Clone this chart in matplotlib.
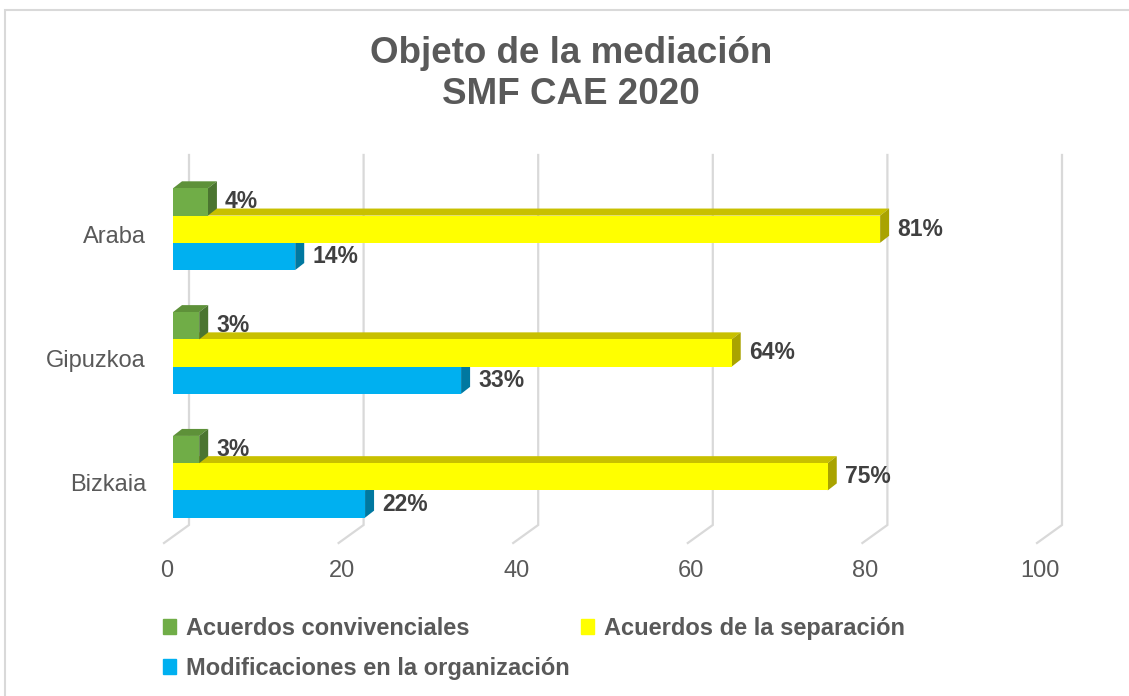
import numpy as np
import matplotlib.pyplot as plt
from matplotlib.patches import Polygon, Rectangle, Patch

plt.rcParams['font.family'] = ['Liberation Sans', 'DejaVu Sans']

# data
regions = ['Bizkaia', 'Gipuzkoa', 'Araba']
series = ['Acuerdos convivenciales', 'Acuerdos de la separación',
          'Modificaciones en la organización']
convivenciales = [3, 3, 4]
separacion = [75, 64, 81]
modificaciones = [22, 33, 14]
x_ticks = [0, 20, 40, 60, 80, 100]

front = ['#70AD47', '#FFFF00', '#00B0F0']
top = ['#5E9139', '#C8C000', '#0094CB']
side = ['#4B7530', '#A9A300', '#0078A0']
grey = '#595959'
grid = '#D9D9D9'

W, H = 1129, 696
fig = plt.figure(figsize=(W / 100, H / 100), dpi=100)
ax = fig.add_axes([173 / W, 1 - 520 / H, 873 / W, 365 / H])
ax.set_xlim(0, 100)
ax.set_ylim(-0.349, 2.599)
ax.axis('off')

# pixel <-> data helpers for the fake 3d look
PX = 873 / 100
PY = 123.8
def dx(p):
    return p / PX
def dy(p):
    return p / PY
def ypix(p):
    return 2 + (229.2 - p) / PY

# back wall grid + floor
for v in x_ticks:
    yb = ypix(525)
    ax.plot([v + dx(16), v + dx(16), v - dx(9)], [ypix(155), yb, yb - dy(18)],
            color=grid, lw=1.6, zorder=1, clip_on=False, solid_joinstyle='miter')
    ax.text(v - dx(6), ypix(571), str(v), ha='center', va='center',
            fontsize=17, color=grey)

h = 0.22
ypos = np.arange(len(regions))
groups = [(modificaciones, -h, 2), (separacion, 0, 1), (convivenciales, h, 0)]
bx, by = dx(9), dy(7)

for z, (vals, off, ci) in enumerate(groups):
    zz = 3 + z
    for yc0, v in zip(ypos, vals):
        yc = yc0 + off
        t, b = yc + h / 2, yc - h / 2
        ax.barh(yc, v, height=h, color=front[ci], zorder=zz + 0.2)
        ax.add_patch(Polygon([(0, t), (v, t), (v + bx, t + by), (bx, t + by)],
                             closed=True, fc=top[ci], ec='none', zorder=zz))
        ax.add_patch(Polygon([(v, b), (v, t), (v + bx, t + by), (v + bx, b + by)],
                             closed=True, fc=side[ci], ec='none', zorder=zz))
        ax.text(v + dx(17), yc, f'{v}%', ha='left', va='center', fontsize=16.5,
                fontweight='bold', color='#404040', zorder=2.5)

for yc0, name in zip(ypos, regions):
    ax.text(dx(-27), yc0 - dy(8), name, ha='right', va='center',
            fontsize=17, color=grey)

fig.text(571 / W, 1 - 74 / H, 'Objeto de la mediación\nSMF CAE 2020',
         ha='center', va='center', fontsize=26.5, fontweight='bold', color=grey,
         linespacing=1.22)

handles = [Patch(color=front[0]), Patch(color=front[2]), Patch(color=front[1])]
labels = [series[0], series[2], series[1]]
fig.legend(handles, labels, ncol=2, loc='upper left',
           bbox_to_anchor=(163 / W, 1 - 617 / H), frameon=False,
           prop={'weight': 'bold', 'size': 17}, labelcolor=grey,
           handlelength=0.55, handleheight=0.6, handletextpad=0.42,
           columnspacing=0.5, labelspacing=0.72, borderpad=0, borderaxespad=0)

fig.add_artist(Rectangle((4.5 / W, -0.1), 1.2, 1 - 9.5 / H + 0.1,
                         transform=fig.transFigure, fill=False, ec=grid, lw=1.5))

fig.savefig('out.png', dpi=100)
